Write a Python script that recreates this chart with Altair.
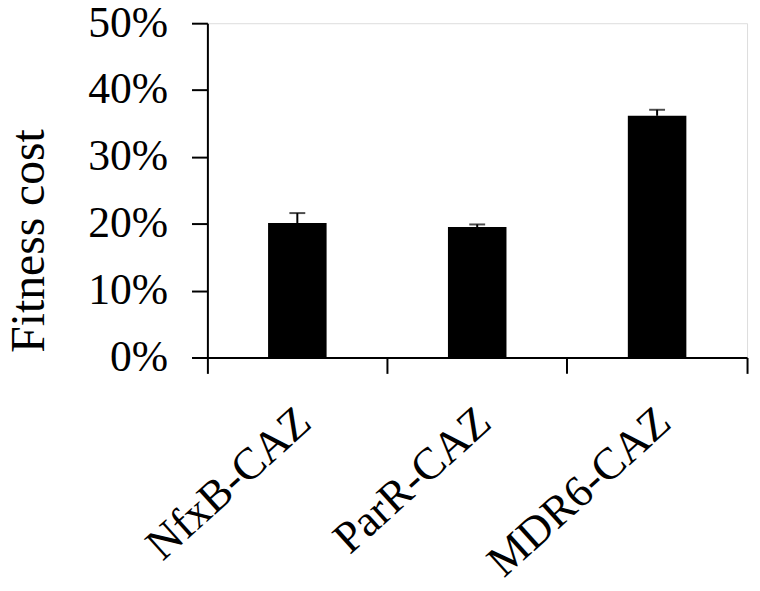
import altair as alt
import pandas as pd

strains = ["NfxB-CAZ", "ParR-CAZ", "MDR6-CAZ"]
fitness_cost = [0.201, 0.195, 0.3615]
error_upper = [0.015, 0.004, 0.009]

df = pd.DataFrame({"strain": strains, "cost": fitness_cost, "err": error_upper})
df["top"] = df["cost"] + df["err"]

FONT = "Liberation Serif"

x_enc = alt.X(
    "strain:N", sort=strains, title=None,
    scale=alt.Scale(paddingInner=0, paddingOuter=0),
    axis=alt.Axis(
        bandPosition=1, tickExtra=True, labelOffset=7, labelAngle=-42,
        labelAlign="right", labelBaseline="middle", labelFontSize=45,
        labelFont=FONT, labelColor="black", labelLimit=0, tickSize=16,
        tickColor="black", tickWidth=2, domainColor="black", domainWidth=2,
        labelPadding=42, grid=False,
    ),
)

y_axis = alt.Axis(
    format=".0%", values=[0, 0.1, 0.2, 0.3, 0.4, 0.5], title="Fitness cost",
    titleFont=FONT, titleFontSize=48, titleFontWeight="normal", titleColor="black",
    titleX=-165, titleY=219, titleBaseline="alphabetic", titleAlign="center",
    labelFont=FONT, labelFontSize=44, labelColor="black", labelPadding=24,
    tickSize=16, tickColor="black", tickWidth=2, domainColor="black", domainWidth=2,
    grid=False,
)
y_scale = alt.Scale(domain=[0, 0.5])

base = alt.Chart(df)

bars = base.mark_bar(color="black", size=59).encode(
    x=x_enc,
    y=alt.Y("cost:Q", scale=y_scale, axis=y_axis),
)
rules = base.mark_rule(color="black", strokeWidth=2).encode(
    x=x_enc,
    y=alt.Y("cost:Q", scale=y_scale, axis=y_axis),
    y2="top:Q",
)
caps = base.mark_tick(color="black", size=16, thickness=2).encode(
    x=x_enc,
    y=alt.Y("top:Q", scale=y_scale, axis=y_axis),
)

chart = alt.layer(bars, rules, caps).properties(
    width=544, height=337,
    autosize=alt.AutoSizeParams(type="none"),
    padding={"left": 201, "top": 13, "right": 5, "bottom": 225},
).configure_view(stroke=None).configure(background="white")

chart.save("out.html", embed_options={"renderer": "svg", "actions": False})
